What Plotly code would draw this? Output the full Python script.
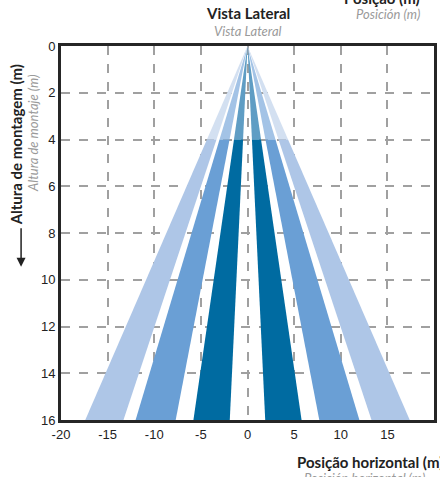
import plotly.graph_objects as go

# Beam edges at the bottom of the chart (depth 16 m), horizontal position in m
depth_max = 16
split_depth = 4
beam_inner = [1.9, 7.7, 13.3]
beam_outer = [5.8, 12.0, 17.4]
beam_colors = ["#006ba1", "#6a9fd5", "#aec6e7"]
beam_colors_top = ["#5f9dc4", "#a3c3e6", "#d3e0f1"]

x_ticks = [-20, -15, -10, -5, 0, 5, 10, 15, 20]
x_ticktext = ["-20", "-15", "-10", "-5", "0", "5", "10", "15", "20"]
y_ticks = [0, 2, 4, 6, 8, 10, 12, 14, 16]

fig = go.Figure()

f = split_depth / depth_max
for inner, outer, c, ct in zip(beam_inner, beam_outer, beam_colors, beam_colors_top):
    for s in (-1, 1):
        xs = [0, s * inner * f, s * outer * f, 0]
        ys = [0, split_depth, split_depth, 0]
        fig.add_trace(go.Scatter(x=xs, y=ys, fill="toself", fillcolor=ct,
                                 line=dict(width=0), mode="lines", hoverinfo="skip",
                                 showlegend=False))
        xs = [s * inner * f, s * inner, s * outer, s * outer * f, s * inner * f]
        ys = [split_depth, depth_max, depth_max, split_depth, split_depth]
        fig.add_trace(go.Scatter(x=xs, y=ys, fill="toself", fillcolor=c,
                                 line=dict(width=0), mode="lines", hoverinfo="skip",
                                 showlegend=False))

axis_common = dict(showgrid=True, gridcolor="#a0a0a0", griddash="dash", gridwidth=1.5,
                   showline=True, linecolor="#262626", linewidth=3, mirror=True,
                   zeroline=False, ticks="", layer="below traces",
                   tickfont=dict(family="Liberation Sans, Arial", size=13, color="#222"))

fig.update_xaxes(range=[-20, 20], tickvals=x_ticks, ticktext=x_ticktext, **axis_common)
fig.update_yaxes(range=[16, 0], tickvals=y_ticks, **axis_common)

title_font = "Lato, Open Sans, sans-serif"
B = dict(size=15, color="#222", family=title_font)
G = dict(size=13, color="#9a9a9a", family=title_font)
ann = [
    dict(text="<b>Vista Lateral</b>", x=0.5, y=1.089, font=B),
    dict(text="<i>Vista Lateral</i>", x=0.5, y=1.041, font=G),
    dict(text="<b>Posição (m)</b>", x=0.967, y=1.128, xanchor="right", font=B),
    dict(text="<i>Posición (m)</i>", x=0.967, y=1.086, xanchor="right", font=G),
    dict(text="<b>Posição horizontal (m)</b>", x=0.628, y=-0.112, xanchor="left", font=B),
    dict(text="<i>Posición horizontal (m)</i>", x=0.645, y=-0.155, xanchor="left", font=G),
    dict(text="<b>Altura de montagem (m)</b>", x=-0.12, y=0.735, textangle=-90, font=B),
    dict(text="<i>Altura de montaje (m)</i>", x=-0.075, y=0.765, textangle=-90, font=G),
]
for a in ann:
    a.setdefault("xanchor", "center")
    fig.add_annotation(xref="paper", yref="paper", showarrow=False, yanchor="middle", **a)

fig.add_annotation(xref="paper", yref="paper", x=-0.107, y=0.41, text="", showarrow=True,
                   arrowhead=2, arrowsize=1.2, arrowwidth=1.5, arrowcolor="#222",
                   ax=0, ay=-40)

fig.update_layout(width=440, height=477, margin=dict(l=61, r=3, t=46, b=57),
                  plot_bgcolor="white", paper_bgcolor="white")

fig.write_html("out.html", config={"displayModeBar": False},
               post_script="document.body.style.margin='0';")
